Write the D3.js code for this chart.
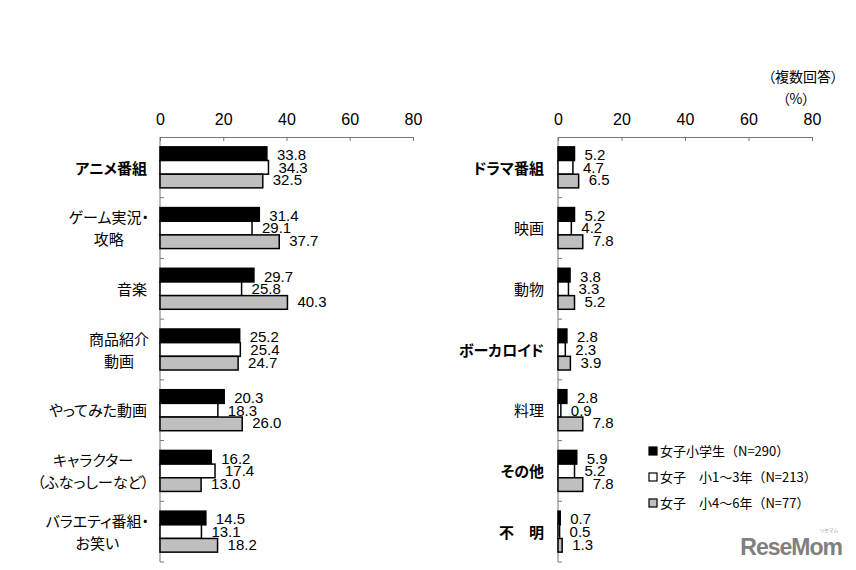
<!DOCTYPE html>
<html><head><meta charset="utf-8">
<script src="https://cdn.jsdelivr.net/npm/d3@7/dist/d3.min.js"></script>
<style>
body{margin:0;background:#fff;}
svg{display:block;}
.cjk{font-family:"Noto Sans CJK JP","Noto Sans",sans-serif;font-feature-settings:"palt";}
.cjkw{font-family:"Noto Sans CJK JP","Noto Sans",sans-serif;}
.num{font-family:"Liberation Sans",Arial,sans-serif;}
</style></head>
<body>
<svg id="c" width="856" height="570"></svg>
<script>
const leftCategories = ["アニメ番組","ゲーム実況・\n攻略","音楽","商品紹介\n動画","やってみた動画","キャラクター\n（ふなっしーなど）","バラエティ番組・\nお笑い"];
const leftBold = [true,false,false,false,false,false,false];
const leftAll = [33.8,31.4,29.7,25.2,20.3,16.2,14.5];
const leftLow = [34.3,29.1,25.8,25.4,18.3,17.4,13.1];
const leftHigh = [32.5,37.7,40.3,24.7,26.0,13.0,18.2];

const rightCategories = ["ドラマ番組","映画","動物","ボーカロイド","料理","その他","不　明"];
const rightBold = [true,false,false,true,false,true,true];
const rightAll = [5.2,5.2,3.8,2.8,2.8,5.9,0.7];
const rightLow = [4.7,4.2,3.3,2.3,0.9,5.2,0.5];
const rightHigh = [6.5,7.8,5.2,3.9,7.8,7.8,1.3];

const seriesNames = ["女子小学生（N=290）","女子　小1～3年（N=213）","女子　小4～6年（N=77）"];
const seriesFill = ["#000000","#ffffff","#bfbfbf"];
const tickValues = [0,20,40,60,80];
const noteText = ["（複数回答）","（%）"];

const svg = d3.select("#c");

function panel(cfg){
  const x = d3.scaleLinear().domain([0,80]).range([cfg.x0,cfg.x1]);
  const y = d3.scaleBand().domain(d3.range(cfg.cats.length)).range([137,562]).padding(0);
  const groupH = 41;
  const inner = d3.scaleBand().domain([0,1,2]).range([0,groupH]);
  const g = svg.append("g");

  const ax = d3.axisTop(x).tickValues(tickValues).tickSizeInner(-4).tickSizeOuter(0).tickPadding(12).tickFormat(d3.format("d"));
  const axg = g.append("g").attr("transform",`translate(0,${y.range()[0]})`).call(ax);
  axg.select(".domain").attr("stroke","#777").attr("stroke-width",1);
  axg.selectAll(".tick line").attr("stroke","#777");
  axg.selectAll(".tick text").attr("class","num").attr("font-size",16).attr("fill","#000");

  g.append("line").attr("x1",x(0)).attr("x2",x(0)).attr("y1",y.range()[0]).attr("y2",y.range()[1])
    .attr("stroke","#777").attr("stroke-width",1);
  const bounds = d3.range(cfg.cats.length+1).map(i=> i<cfg.cats.length ? y(i) : y.range()[1]);
  g.selectAll("line.yt").data(bounds.slice(1)).enter().append("line").attr("class","yt")
    .attr("x1",x(0)).attr("x2",x(0)+4).attr("y1",d=>d).attr("y2",d=>d).attr("stroke","#777");

  const series = [cfg.a,cfg.b,cfg.c];
  series.forEach((vals,s)=>{
    g.selectAll(null).data(vals).enter().append("rect")
      .attr("x",x(0)).attr("y",(d,i)=>y(i)+(y.bandwidth()-groupH)/2+inner(s))
      .attr("width",d=>x(d)-x(0)).attr("height",inner.bandwidth())
      .attr("fill",seriesFill[s]).attr("stroke","#000").attr("stroke-width",1.5);
    const dy=[1,0,-1][s];
    g.selectAll(null).data(vals).enter().append("text").attr("class","num")
      .attr("x",d=>x(d)+10).attr("y",(d,i)=>y(i)+(y.bandwidth()-groupH)/2+inner(s)+inner.bandwidth()/2+dy)
      .attr("dy","0.36em").attr("font-size",15).attr("fill","#000")
      .text(d=>d3.format(".1f")(d));
  });

  cfg.cats.forEach((c,i)=>{
    const lines = c.split("\n");
    const cy = y(i)+y.bandwidth()/2;
    const t = g.append("text").attr("class","cjk").attr("font-size",15).attr("fill","#000")
      .attr("font-weight",cfg.bold[i]?"bold":"normal");
    const lh = 22;
    lines.forEach((ln,k)=>{
      t.append("tspan").attr("x",0).attr("y",cy+(k-(lines.length-1)/2)*lh+1).attr("dy","0.35em").text(ln);
    });
    if(lines.length===1){
      t.attr("text-anchor","end").selectAll("tspan").attr("x",cfg.labelRight);
    } else {
      let w=0; t.selectAll("tspan").each(function(){w=Math.max(w,this.getComputedTextLength());});
      t.attr("text-anchor","middle").selectAll("tspan").attr("x",cfg.labelRight-w/2+2);
    }
  });
}

panel({x0:160,x1:413,cats:leftCategories,bold:leftBold,a:leftAll,b:leftLow,c:leftHigh,labelRight:147});
panel({x0:558,x1:812,cats:rightCategories,bold:rightBold,a:rightAll,b:rightLow,c:rightHigh,labelRight:544});

svg.append("text").attr("class","cjk").attr("x",838).attr("y",77).attr("dy","0.35em").attr("text-anchor","end")
  .attr("font-size",14).text(noteText[0]);
svg.append("text").attr("class","cjk").attr("x",796).attr("y",99).attr("dy","0.35em").attr("text-anchor","middle")
  .attr("font-size",14).text(noteText[1]);

const leg = svg.append("g");
seriesNames.forEach((n,i)=>{
  const ly = 451 + i*26;
  leg.append("rect").attr("x",649).attr("y",ly-4).attr("width",8).attr("height",8)
    .attr("fill",seriesFill[i]).attr("stroke","#000").attr("stroke-width",1.2);
  leg.append("text").attr("class","cjkw").attr("x",660).attr("y",ly).attr("dy","0.35em")
    .attr("font-size",13).text(n);
});

svg.append("text").attr("x",842).attr("y",555).attr("text-anchor","end")
  .attr("font-family","Liberation Sans, Arial, sans-serif").attr("font-weight","bold")
  .attr("font-size",23).attr("letter-spacing","-1").attr("fill","#808080").text("ReseMom");
svg.append("text").attr("class","cjk").attr("x",838).attr("y",532).attr("text-anchor","end")
  .attr("font-size",5).attr("fill","#999").text("リセマム");
</script>
</body></html>
